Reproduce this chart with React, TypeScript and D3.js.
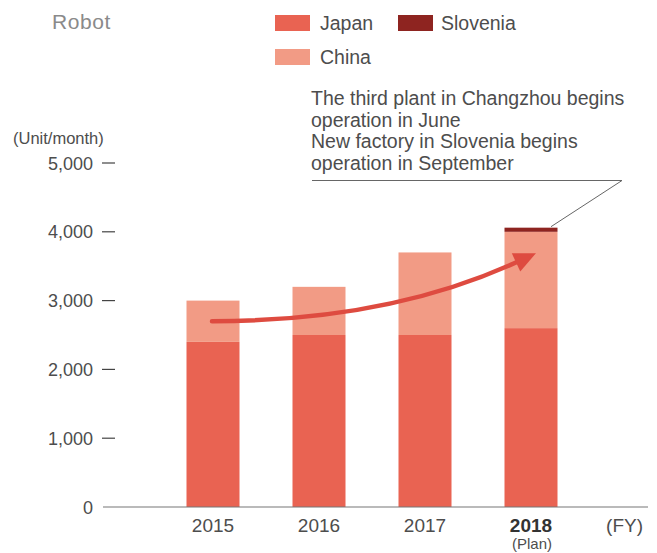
import React from "react";
import * as d3 from "d3";

const years = ["2015", "2016", "2017", "2018"];
const japan = [2400, 2500, 2500, 2600];
const china = [600, 700, 1200, 1400];
const slovenia = [0, 0, 0, 60];
const yTicks = [0, 1000, 2000, 3000, 4000, 5000];
const noteLines = [
  "The third plant in Changzhou begins",
  "operation in June",
  "New factory in Slovenia begins",
  "operation in September",
];
const seriesNames = ["Japan", "China", "Slovenia"];
const seriesColors = ["#e96352", "#f29b85", "#8e2420"];

const FONT = "'Liberation Sans', Arial, sans-serif";
const TEXT = "#4d4d4d";

export default function App() {
  const W = 657, H = 553;
  const x = d3.scaleBand<string>().domain(years).range([160, 584]).paddingInner(0.5).paddingOuter(0.25);
  const y = d3.scaleLinear().domain([0, 5000]).range([507, 163]);

  const rows = years.map((yr, i) => ({ year: yr, Japan: japan[i], China: china[i], Slovenia: slovenia[i] }));
  const stack = d3.stack<any>().keys(seriesNames)(rows);

  // arrow: from 2015 centre to 2018 centre
  const x0 = x("2015")! + x.bandwidth() / 2;
  const x3 = x("2018")! + x.bandwidth() / 2;
  const start: [number, number] = [x0 - 1, y(2700)];
  const tip: [number, number] = [x3 + 5, y(3690)];
  const ctrl: [number, number] = [390, y(2700)];
  const ang = Math.atan2(tip[1] - ctrl[1], tip[0] - ctrl[0]);
  const headLen = 22, headW = 10;
  const base: [number, number] = [tip[0] - headLen * Math.cos(ang), tip[1] - headLen * Math.sin(ang)];
  const px = -Math.sin(ang), py = Math.cos(ang);
  const lineEnd: [number, number] = [tip[0] - (headLen - 4) * Math.cos(ang), tip[1] - (headLen - 4) * Math.sin(ang)];
  const path = d3.path();
  path.moveTo(start[0], start[1]);
  path.quadraticCurveTo(ctrl[0], ctrl[1], lineEnd[0], lineEnd[1]);
  const head = `M${tip[0]},${tip[1]}L${base[0] + px * headW},${base[1] + py * headW}L${base[0] - px * headW},${base[1] - py * headW}Z`;

  // annotation leader
  const sloTop = y(japan[3] + china[3] + slovenia[3]);
  const leader = `M312,180.5L622,180.5L${x3 + 20},${sloTop - 1}`;

  return (
    <svg width={W} height={H} style={{ position: "absolute", left: 0, top: 0, background: "#fff" }} fontFamily={FONT}>
      <text x={52} y={29} fontSize={21} letterSpacing={0.6} fill="#8a8a8a">Robot</text>

      {/* legend */}
      <rect x={275} y={15} width={35} height={16} fill={seriesColors[0]} />
      <text x={320} y={30} fontSize={19.5} fill={TEXT}>Japan</text>
      <rect x={398} y={15} width={35} height={16} fill={seriesColors[2]} />
      <text x={441} y={30} fontSize={19.5} fill={TEXT}>Slovenia</text>
      <rect x={275} y={49} width={35} height={16} fill={seriesColors[1]} />
      <text x={320} y={64} fontSize={19.5} fill={TEXT}>China</text>

      {/* annotation */}
      {noteLines.map((t, i) => (
        <text key={i} x={311} y={105 + i * 21.7} fontSize={19.5} fill={TEXT}>{t}</text>
      ))}
      <path d={leader} fill="none" stroke="#666" strokeWidth={1} />

      {/* y axis */}
      <text x={13} y={144} fontSize={16.5} fill={TEXT}>(Unit/month)</text>
      {yTicks.map((t) => (
        <g key={t}>
          <text x={93} y={y(t) + 6.5} fontSize={18} fill={TEXT} textAnchor="end">{d3.format(",")(t)}</text>
          {t > 0 && <line x1={102} x2={115} y1={y(t)} y2={y(t)} stroke="#444" strokeWidth={1.2} />}
        </g>
      ))}

      {/* bars */}
      {stack.map((s, si) => (
        <g key={s.key} fill={seriesColors[si]}>
          {s.map((d, i) => (
            d[1] - d[0] > 0 ? (
              <rect key={i} x={x(years[i])} width={x.bandwidth()} y={y(d[1])} height={y(d[0]) - y(d[1])} />
            ) : null
          ))}
        </g>
      ))}

      <line x1={103} x2={648} y1={507} y2={507} stroke="#777" strokeWidth={1.2} />

      {/* x labels */}
      {years.map((yr) => (
        <text key={yr} x={x(yr)! + x.bandwidth() / 2} y={531.5} fontSize={19} fill={yr === "2018" ? "#333" : TEXT}
          fontWeight={yr === "2018" ? "bold" : "normal"} textAnchor="middle">{yr}</text>
      ))}
      <text x={x("2018")! + x.bandwidth() / 2 + 1} y={548.5} fontSize={15} fill={TEXT} textAnchor="middle">(Plan)</text>
      <text x={643} y={531.5} fontSize={19} fill={TEXT} textAnchor="end">(FY)</text>

      {/* arrow */}
      <path d={path.toString()} fill="none" stroke="#de4b40" strokeWidth={4.5} strokeLinecap="round" />
      <path d={head} fill="#de4b40" />
    </svg>
  );
}
